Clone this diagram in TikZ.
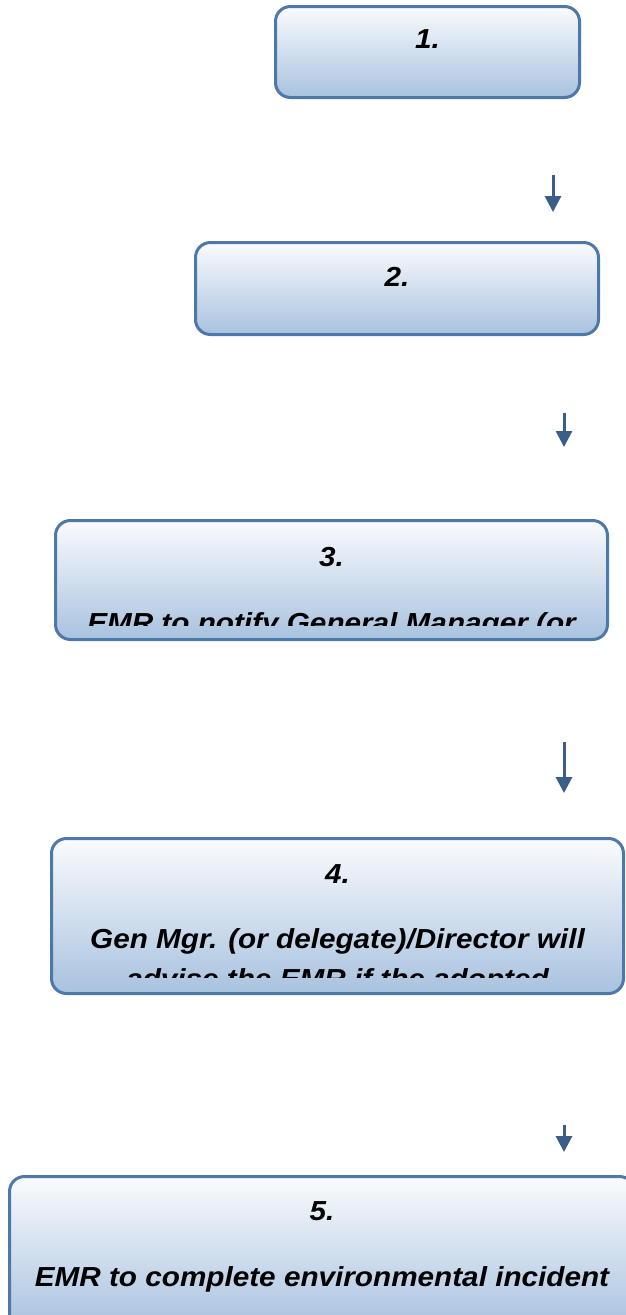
\documentclass[tikz,border=0pt]{standalone}
\usepackage{fontspec}
\newfontfamily\boxfont{Liberation Sans}[FakeStretch=1.08]
\usetikzlibrary{arrows.meta}

\definecolor{boxedge}{HTML}{4E78A9}
\definecolor{boxtop}{HTML}{FAFBFD}
\definecolor{boxbottom}{HTML}{A8C2DF}
\definecolor{arrowblue}{HTML}{3B5E89}

\tikzset{
  stepbox/.style={rectangle, rounded corners=15pt, draw=boxedge, line width=3pt,
    top color=boxtop, bottom color=boxbottom, inner sep=0pt},
  steptext/.style={anchor=base, inner sep=0pt,
    font=\boxfont\fontsize{27.5}{31}\selectfont\bfseries\itshape},
  flowarrow/.style={draw=arrowblue, line width=3pt,
    -{Triangle[width=16pt,length=16pt]}}
}

\begin{document}
\begin{tikzpicture}[x=1pt,y=-1pt]
  \clip (0,0) rectangle (626,1315);
  \fill[white] (0,0) rectangle (626,1315);

  % boxes
  \node[stepbox, minimum width=304pt, minimum height=91pt] (b1) at (427.5,52) {};
  \node[stepbox, minimum width=403pt, minimum height=92pt] (b2) at (397,288.5) {};
  \node[stepbox, minimum width=552pt, minimum height=119pt] (b3) at (331.5,580) {};
  \node[stepbox, minimum width=572pt, minimum height=155pt] (b4) at (337.5,916) {};
  \node[stepbox, minimum width=625pt, minimum height=152pt] (b5) at (322,1252.5) {};

  % box texts
  \node[steptext] (t1) at (427.5,48) {1.};
  \node[steptext] (t2) at (397,286) {2.};
  \node[steptext] (t3) at (331.5,566) {3.};
  \begin{scope}
    \clip (56,522) rectangle (607,625.5);
    \node[steptext] (t3b) at (331.5,632) {EMR to notify General Manager (or};
  \end{scope}
  \node[steptext] (t4) at (337.5,883) {4.};
  \node[steptext] (t4b) at (337.5,948) {Gen Mgr. (or delegate)/Director will};
  \begin{scope}
    \clip (52,840) rectangle (623,977);
    \node[steptext] (t4c) at (337.5,988) {advise the EMR if the adopted};
  \end{scope}
  \node[steptext] (t5) at (322,1220) {5.};
  \node[steptext] (t5b) at (322,1286) {EMR to complete environmental incident};

  % arrows between the steps
  \coordinate (a1s) at (553,175);
  \coordinate (a1e) at (553,212);
  \coordinate (a2s) at (564,413);
  \coordinate (a2e) at (564,447);
  \coordinate (a3s) at (564,742);
  \coordinate (a3e) at (564,793);
  \coordinate (a4s) at (564,1125);
  \coordinate (a4e) at (564,1152);
  \draw[flowarrow] (a1s) -- (a1e);
  \draw[flowarrow] (a2s) -- (a2e);
  \draw[flowarrow] (a3s) -- (a3e);
  \draw[flowarrow] (a4s) -- (a4e);
\end{tikzpicture}
\end{document}
